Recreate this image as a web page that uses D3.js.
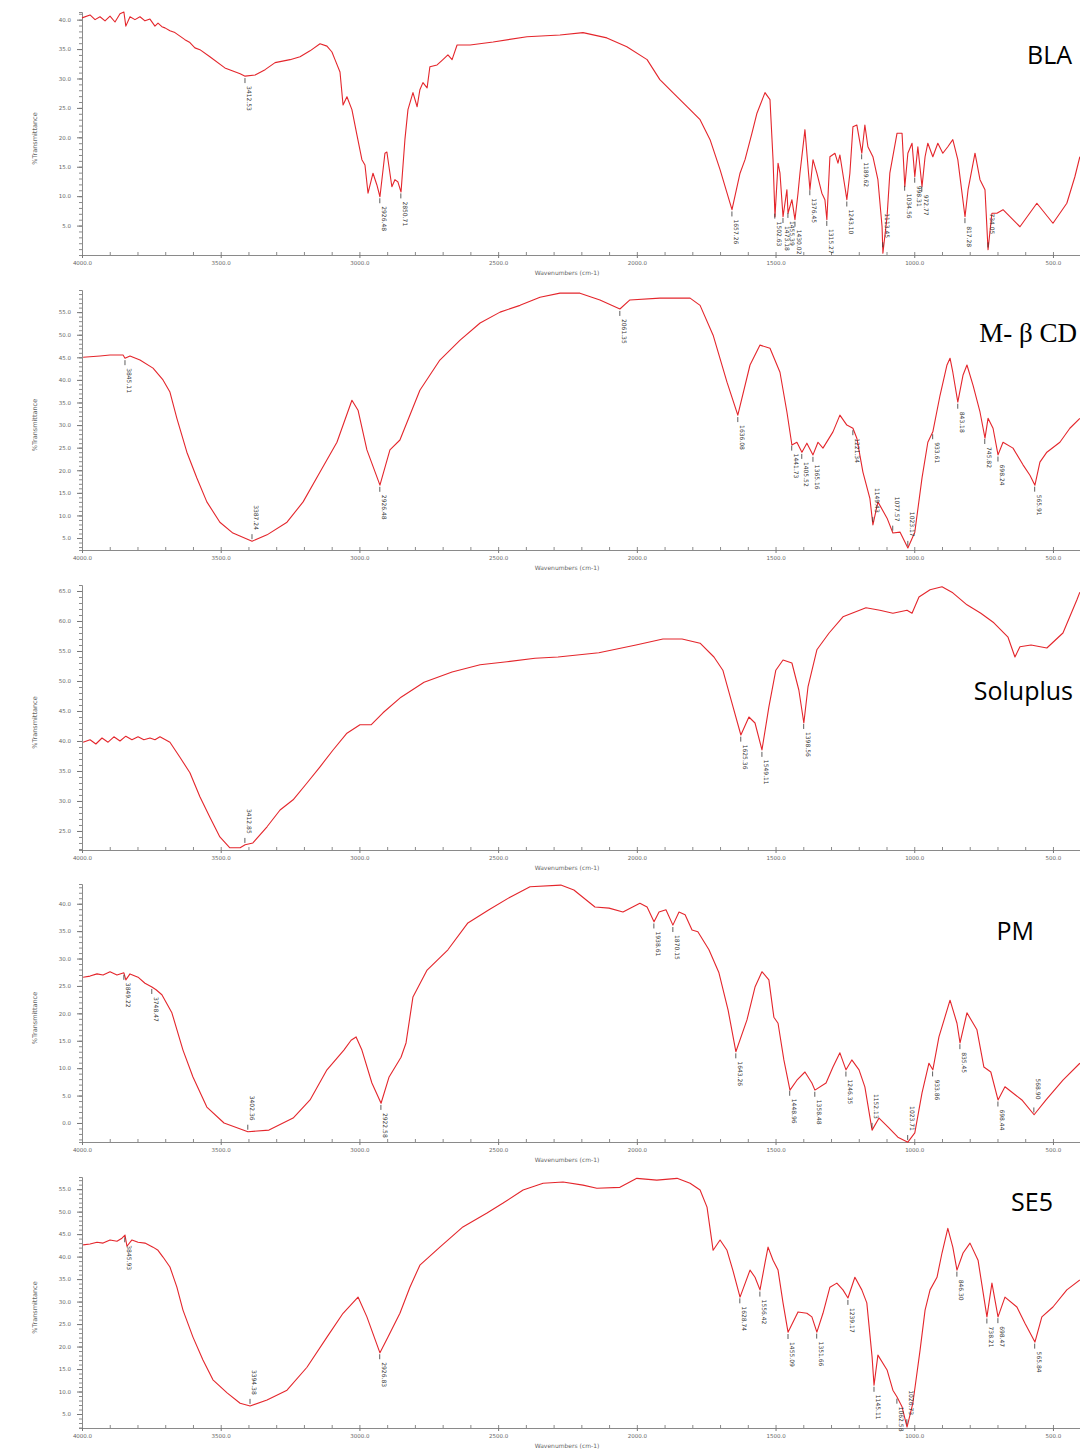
<!DOCTYPE html>
<html>
<head>
<meta charset="utf-8">
<script src="https://cdn.jsdelivr.net/npm/d3@7"></script>
<style>
  body { margin: 0; background: #fff; }
  .tick text { font-family: "DejaVu Sans", sans-serif; }
</style>
</head>
<body>
<div id="chart"></div>
<script>
// FTIR spectra, [wavenumber cm-1, %T]

const blaSpectrum = [[4000,40.3],[3971,40.8],[3953,40.0],[3935,40.5],[3917,39.8],[3899,40.6],[3881,39.6],[3863,41.0],[3849,41.3],[3842,38.9],[3827,40.5],[3809,40.0],[3791,40.5],[3773,39.8],[3755,40.1],[3737,38.9],[3726,39.4],[3712,38.8],[3701,38.6],[3683,38.1],[3665,37.8],[3647,37.2],[3629,36.6],[3611,36.1],[3593,35.2],[3575,34.9],[3539,33.7],[3485,31.8],[3430,30.8],[3412,30.4],[3376,30.6],[3340,31.5],[3304,32.7],[3250,33.2],[3214,33.7],[3178,34.7],[3142,35.9],[3117,35.5],[3099,34.5],[3088,33.2],[3070,31.1],[3059,25.5],[3045,26.9],[3027,24.7],[3009,20.4],[2991,16.2],[2980,15.3],[2969,10.5],[2951,13.9],[2937,11.9],[2926,9.9],[2908,17.3],[2901,17.5],[2883,11.6],[2872,12.8],[2861,12.4],[2850,10.7],[2836,19.6],[2825,24.7],[2807,27.6],[2792,25.2],[2782,28.1],[2771,29.3],[2756,28.4],[2746,32.0],[2720,32.3],[2699,33.2],[2681,34.0],[2666,33.2],[2648,35.7],[2601,35.7],[2518,36.2],[2396,37.1],[2277,37.4],[2194,37.8],[2108,36.9],[2036,35.4],[1963,33.2],[1917,29.8],[1870,27.6],[1819,25.2],[1772,23.0],[1736,19.6],[1700,14.5],[1657,7.7],[1628,13.9],[1610,16.2],[1585,20.7],[1567,24.1],[1538,27.6],[1520,26.4],[1509,16.2],[1502,6.5],[1491,15.6],[1484,13.9],[1473,6.5],[1459,11.1],[1455,7.1],[1441,9.4],[1430,6.0],[1419,10.5],[1412,13.9],[1394,21.3],[1383,15.0],[1376,11.1],[1365,16.2],[1351,13.9],[1333,10.5],[1322,9.4],[1315,6.0],[1304,16.7],[1286,17.3],[1275,15.6],[1268,17.0],[1250,11.6],[1243,9.4],[1232,13.9],[1221,21.8],[1207,22.1],[1189,17.3],[1178,22.1],[1167,18.4],[1149,16.7],[1131,12.8],[1116,4.8],[1113,0.3],[1098,6.5],[1088,13.9],[1062,20.7],[1044,20.7],[1034,11.6],[1023,17.3],[1008,19.0],[998,13.3],[987,18.4],[972,11.6],[961,16.7],[951,19.0],[933,16.7],[915,19.0],[897,17.3],[879,18.4],[861,19.6],[843,16.2],[817,6.5],[806,11.1],[781,17.3],[763,12.8],[745,11.1],[734,0.9],[720,7.1],[702,7.1],[680,7.7],[619,4.8],[558,8.8],[529,7.1],[500,5.4],[450,8.8],[421,13.3],[403,16.7]];
const blaPeaks = [3412.53, 2926.48, 2850.71, 1657.26, 1502.63, 1473.18, 1455.39, 1430.02, 1376.45, 1315.27, 1243.10, 1189.62, 1113.45, 1034.56, 998.31, 972.77, 817.28, 734.05];
const blaTicks = [5, 10, 15, 20, 25, 30, 35, 40];

const mbcdSpectrum = [[3996,45.0],[3935,45.3],[3899,45.5],[3852,45.5],[3845,44.8],[3827,45.3],[3791,44.4],[3744,42.6],[3708,40.0],[3683,37.3],[3658,31.5],[3622,24.0],[3586,18.3],[3550,13.0],[3503,8.5],[3456,6.1],[3387,4.3],[3333,5.7],[3261,8.5],[3203,13.0],[3142,19.6],[3081,26.2],[3027,35.5],[3005,33.3],[2973,24.5],[2926,16.7],[2890,24.5],[2854,26.7],[2782,37.7],[2710,44.4],[2637,48.8],[2565,52.6],[2493,55.0],[2421,56.5],[2349,58.3],[2277,59.2],[2205,59.2],[2133,57.7],[2061,55.7],[2025,57.7],[1917,58.1],[1808,58.1],[1772,56.5],[1725,49.9],[1675,39.5],[1636,32.2],[1592,43.3],[1556,47.7],[1520,47.0],[1484,41.7],[1459,32.9],[1441,25.6],[1423,26.2],[1405,24.0],[1387,26.0],[1365,23.4],[1347,26.2],[1329,24.9],[1293,28.5],[1268,32.2],[1243,30.0],[1221,29.3],[1207,27.1],[1185,19.6],[1160,13.8],[1149,7.9],[1131,13.0],[1098,9.4],[1077,6.1],[1051,6.3],[1023,2.8],[998,6.3],[972,18.3],[951,26.2],[933,28.5],[907,36.6],[882,43.3],[871,44.8],[861,41.7],[843,35.1],[824,41.1],[810,43.3],[788,38.8],[763,32.9],[745,27.1],[734,31.5],[716,29.3],[698,23.4],[680,26.2],[644,24.9],[608,21.2],[583,18.9],[565,16.7],[547,21.8],[522,24.0],[475,26.2],[439,29.3],[403,31.5]];
const mbcdPeaks = [3845.11, 3387.24, 2926.48, 2061.35, 1636.08, 1441.73, 1405.52, 1365.16, 1221.34, 1149.43, 1077.57, 1023.17, 933.61, 843.18, 745.82, 698.24, 565.91];
const mbcdTicks = [5, 10, 15, 20, 25, 30, 35, 40, 45, 50, 55];

const solSpectrum = [[3996,39.8],[3971,40.2],[3950,39.5],[3928,40.5],[3906,39.8],[3885,40.7],[3863,40.0],[3842,40.8],[3820,40.2],[3798,40.7],[3777,40.2],[3755,40.5],[3737,40.2],[3719,40.7],[3683,39.8],[3647,37.3],[3611,34.7],[3575,30.7],[3539,27.3],[3503,24.0],[3467,22.2],[3430,22.2],[3412,22.7],[3384,23.0],[3333,25.7],[3286,28.5],[3239,30.2],[3189,33.0],[3142,35.7],[3095,38.5],[3045,41.3],[2998,42.7],[2958,42.7],[2915,44.7],[2850,47.3],[2767,49.8],[2666,51.5],[2565,52.7],[2468,53.2],[2367,53.8],[2284,54.0],[2137,54.7],[2003,56.0],[1906,57.0],[1837,57.0],[1772,56.3],[1722,54.0],[1690,51.8],[1657,46.3],[1625,41.0],[1596,44.0],[1574,43.0],[1549,38.5],[1524,45.7],[1499,51.8],[1473,53.5],[1441,53.0],[1416,48.5],[1398,43.0],[1383,49.0],[1351,55.2],[1307,58.0],[1257,60.7],[1174,62.2],[1124,61.8],[1077,61.3],[1026,61.8],[1008,61.3],[983,64.0],[943,65.2],[900,65.7],[861,64.7],[810,62.7],[760,61.3],[713,59.7],[662,57.3],[637,54.0],[619,55.7],[579,56.0],[522,55.5],[464,58.0],[414,63.5],[403,64.8]];
const solPeaks = [3412.85, 1625.36, 1549.11, 1398.56];
const solTicks = [25, 30, 35, 40, 45, 50, 55, 60, 65];

const pmSpectrum = [[3996,26.6],[3971,26.8],[3946,27.2],[3924,27.0],[3899,27.6],[3874,27.0],[3849,27.4],[3842,26.1],[3827,27.2],[3798,26.6],[3773,25.5],[3748,24.8],[3733,24.3],[3712,23.4],[3676,20.1],[3636,13.3],[3600,8.4],[3550,2.9],[3488,0],[3402,-1.6],[3326,-1.3],[3239,0.9],[3178,4.2],[3117,9.7],[3056,13.3],[3030,15.1],[3012,15.7],[2991,13.3],[2955,7.3],[2922,3.6],[2893,8.4],[2850,12.0],[2832,14.6],[2807,23.0],[2756,27.9],[2681,31.6],[2609,36.5],[2533,38.9],[2457,41.2],[2385,43.1],[2274,43.4],[2227,42.5],[2151,39.4],[2100,39.2],[2050,38.5],[1989,40.1],[1963,39.4],[1938,36.7],[1920,38.5],[1895,38.9],[1870,36.1],[1848,38.5],[1826,38.0],[1801,35.2],[1780,34.9],[1740,31.6],[1704,27.4],[1671,20.6],[1643,13.0],[1603,18.8],[1574,24.8],[1549,27.6],[1524,26.1],[1506,19.3],[1491,18.2],[1470,11.5],[1448,6.0],[1423,7.8],[1394,9.3],[1369,7.3],[1358,6.0],[1318,7.3],[1293,10.2],[1268,12.8],[1246,9.7],[1225,11.5],[1199,9.7],[1178,6.6],[1152,-1.3],[1127,0.9],[1095,-0.7],[1059,-2.6],[1023,-3.5],[998,-1.8],[972,5.5],[947,10.9],[933,9.7],[911,15.7],[871,22.4],[846,18.2],[835,14.6],[810,20.1],[774,17.0],[749,10.2],[724,9.3],[698,4.2],[673,6.6],[612,4.2],[568,1.5],[525,4.2],[464,7.8],[403,10.9]];
const pmPeaks = [3849.22, 3748.47, 3402.36, 2922.58, 1938.61, 1870.15, 1643.26, 1448.96, 1358.48, 1246.35, 1152.13, 1023.71, 933.86, 835.45, 698.44, 568.90];
const pmTicks = [0, 5, 10, 15, 20, 25, 30, 35, 40];

const se5Spectrum = [[3996,42.6],[3971,42.8],[3946,43.2],[3924,43.0],[3899,43.7],[3874,43.4],[3856,44.1],[3845,44.8],[3838,42.3],[3820,43.7],[3798,43.2],[3773,43.0],[3744,42.1],[3726,41.4],[3708,39.9],[3683,37.7],[3658,33.2],[3636,28.1],[3600,22.1],[3564,17.0],[3528,12.6],[3477,9.7],[3430,7.4],[3394,6.8],[3333,8.1],[3261,10.3],[3189,15.4],[3117,22.1],[3059,27.4],[3005,31.0],[2973,26.6],[2926,18.6],[2897,22.1],[2854,27.4],[2818,33.2],[2782,38.1],[2710,42.1],[2627,46.6],[2540,49.7],[2482,51.9],[2410,54.8],[2338,56.3],[2266,56.6],[2194,55.9],[2144,55.2],[2061,55.4],[2000,57.4],[1928,57.0],[1855,57.4],[1808,56.3],[1772,54.8],[1747,51.0],[1725,41.4],[1700,43.7],[1675,41.4],[1654,37.0],[1628,31.0],[1592,37.0],[1574,35.4],[1556,32.6],[1538,38.6],[1527,42.1],[1509,39.2],[1491,37.0],[1473,29.7],[1455,23.2],[1419,27.7],[1387,27.4],[1369,26.6],[1351,23.2],[1329,27.4],[1304,33.2],[1279,34.1],[1257,32.6],[1239,30.8],[1214,35.4],[1189,32.6],[1171,29.7],[1152,17.7],[1145,11.4],[1131,18.1],[1098,14.8],[1077,10.3],[1062,8.8],[1044,6.6],[1026,2.1],[1005,7.4],[979,19.2],[961,28.1],[943,32.6],[918,35.4],[900,40.8],[879,46.3],[861,42.1],[846,37.0],[824,40.8],[799,43.0],[770,39.2],[738,26.6],[720,34.1],[698,26.6],[673,31.0],[630,28.8],[601,25.2],[565,21.0],[540,26.6],[500,28.8],[450,32.6],[403,34.8]];
const se5Peaks = [3845.93, 3394.38, 2926.83, 1628.74, 1556.42, 1455.09, 1351.66, 1239.17, 1145.11, 1062.58, 1026.73, 846.30, 738.21, 698.47, 565.84];
const se5Ticks = [5, 10, 15, 20, 25, 30, 35, 40, 45, 50, 55];

const xMajorTicks = [4000, 3500, 3000, 2500, 2000, 1500, 1000, 500];
const xMinorTicks = d3.range(400, 4001, 100);

// layout of the five stacked panels
const panels = [
  { title: "BLA", spectrum: blaSpectrum, peaks: blaPeaks, ticks: blaTicks,
    top: 12, bottom: 255, yDomain: [0, 41.3],
    font: "'Open Sans', sans-serif", size: 25, tx: 1072, ty: 64 },
  { title: "M- \u03b2 CD", spectrum: mbcdSpectrum, peaks: mbcdPeaks, ticks: mbcdTicks,
    top: 290, bottom: 550, yDomain: [2.35, 59.9],
    font: "'Liberation Serif', serif", size: 27, tx: 1077, ty: 342 },
  { title: "Soluplus", spectrum: solSpectrum, peaks: solPeaks, ticks: solTicks,
    top: 585, bottom: 850, yDomain: [21.83, 66],
    font: "'Open Sans', sans-serif", size: 25, tx: 1073, ty: 700 },
  { title: "PM", spectrum: pmSpectrum, peaks: pmPeaks, ticks: pmTicks,
    top: 884, bottom: 1142, yDomain: [-3.47, 43.6],
    font: "'Open Sans', sans-serif", size: 25, tx: 1034, ty: 940 },
  { title: "SE5", spectrum: se5Spectrum, peaks: se5Peaks, ticks: se5Ticks,
    top: 1177, bottom: 1428, yDomain: [1.89, 57.7],
    font: "'Open Sans', sans-serif", size: 25, tx: 1053, ty: 1211 }
];

const width = 1080, height = 1450;
const svg = d3.select("#chart").append("svg")
  .attr("width", width).attr("height", height)
  .style("font-family", "'DejaVu Sans', sans-serif");

const x = d3.scaleLinear().domain([4000, 400]).range([82, 1080.7]);

// value of a spectrum at a wavenumber (data is sorted high -> low)
function valueAt(spec, wn) {
  for (let i = 0; i < spec.length - 1; i++) {
    const a = spec[i], b = spec[i + 1];
    if (wn <= a[0] && wn >= b[0]) {
      const t = (a[0] - wn) / (a[0] - b[0]);
      return a[1] + t * (b[1] - a[1]);
    }
  }
  return spec[spec.length - 1][1];
}

panels.forEach(p => {
  const y = d3.scaleLinear().domain(p.yDomain).range([p.bottom, p.top]);
  const g = svg.append("g");

  // y axis: minor ticks every 1 %T, labelled majors
  g.append("g").attr("transform", "translate(82,0)")
    .call(d3.axisLeft(y).tickValues(d3.range(Math.ceil(p.yDomain[0]), p.yDomain[1], 1))
      .tickSize(3).tickFormat(""))
    .call(s => s.selectAll("line,path").attr("stroke", "#8a8a8a"));
  g.append("g").attr("transform", "translate(82,0)")
    .call(d3.axisLeft(y).tickValues(p.ticks).tickSize(5).tickSizeOuter(0).tickPadding(6)
      .tickFormat(d3.format(".1f")))
    .call(s => s.select(".domain").remove())
    .call(s => s.selectAll("line").attr("stroke", "#777"))
    .call(s => s.selectAll("text").attr("font-size", 5.5).attr("fill", "#666"));

  // x axis
  g.append("g").attr("transform", `translate(0,${p.bottom})`)
    .call(d3.axisBottom(x).tickValues(xMinorTicks).tickSizeInner(-3).tickSizeOuter(0).tickFormat(""))
    .call(s => s.selectAll("line,path").attr("stroke", "#8a8a8a"));
  g.append("g").attr("transform", `translate(0,${p.bottom})`)
    .call(d3.axisBottom(x).tickValues(xMajorTicks).tickSize(3).tickPadding(3)
      .tickFormat(d3.format(".1f")))
    .call(s => s.select(".domain").remove())
    .call(s => s.selectAll("line").attr("stroke", "#777"))
    .call(s => s.selectAll("text").attr("font-size", 5.5).attr("fill", "#666"));

  g.append("text")
    .attr("x", 567).attr("y", p.bottom + 20)
    .attr("text-anchor", "middle")
    .attr("font-size", 6).attr("fill", "#666")
    .text("Wavenumbers (cm-1)");

  const midY = (p.top + p.bottom) / 2 + 5;
  g.append("text")
    .attr("transform", `translate(37,${midY}) rotate(-90)`)
    .attr("text-anchor", "middle")
    .attr("font-size", 6.5).attr("fill", "#666")
    .text("%Transmittance");

  // spectrum
  const line = d3.line().x(d => x(d[0])).y(d => y(d[1]));
  g.append("path")
    .datum(p.spectrum)
    .attr("d", line)
    .attr("fill", "none")
    .attr("stroke", "#e4262c")
    .attr("stroke-width", 1.1)
    .attr("stroke-linejoin", "round");

  // peak markers and labels; peaks near the axis get their label above
  const pk = g.selectAll(".peak").data(p.peaks).join("g")
    .attr("class", "peak")
    .attr("transform", d => `translate(${x(d)},${y(valueAt(p.spectrum, d))})`);
  const low = d => y(valueAt(p.spectrum, d)) + 36 > p.bottom + 8;
  pk.append("line")
    .attr("y1", d => low(d) ? -2 : 2).attr("y2", d => low(d) ? -7 : 7)
    .attr("stroke", "#333").attr("stroke-width", 0.8);
  pk.append("text")
    .attr("transform", d => low(d) ? "translate(2,-36) rotate(90)" : "translate(2,10) rotate(90)")
    .attr("font-size", 6).attr("fill", "#333")
    .text(d => d.toFixed(2));

  // sample name
  g.append("text")
    .attr("x", p.tx).attr("y", p.ty)
    .attr("text-anchor", "end")
    .attr("font-family", p.font)
    .attr("font-size", p.size)
    .attr("fill", "#000")
    .text(p.title);
});
</script>
</body>
</html>
